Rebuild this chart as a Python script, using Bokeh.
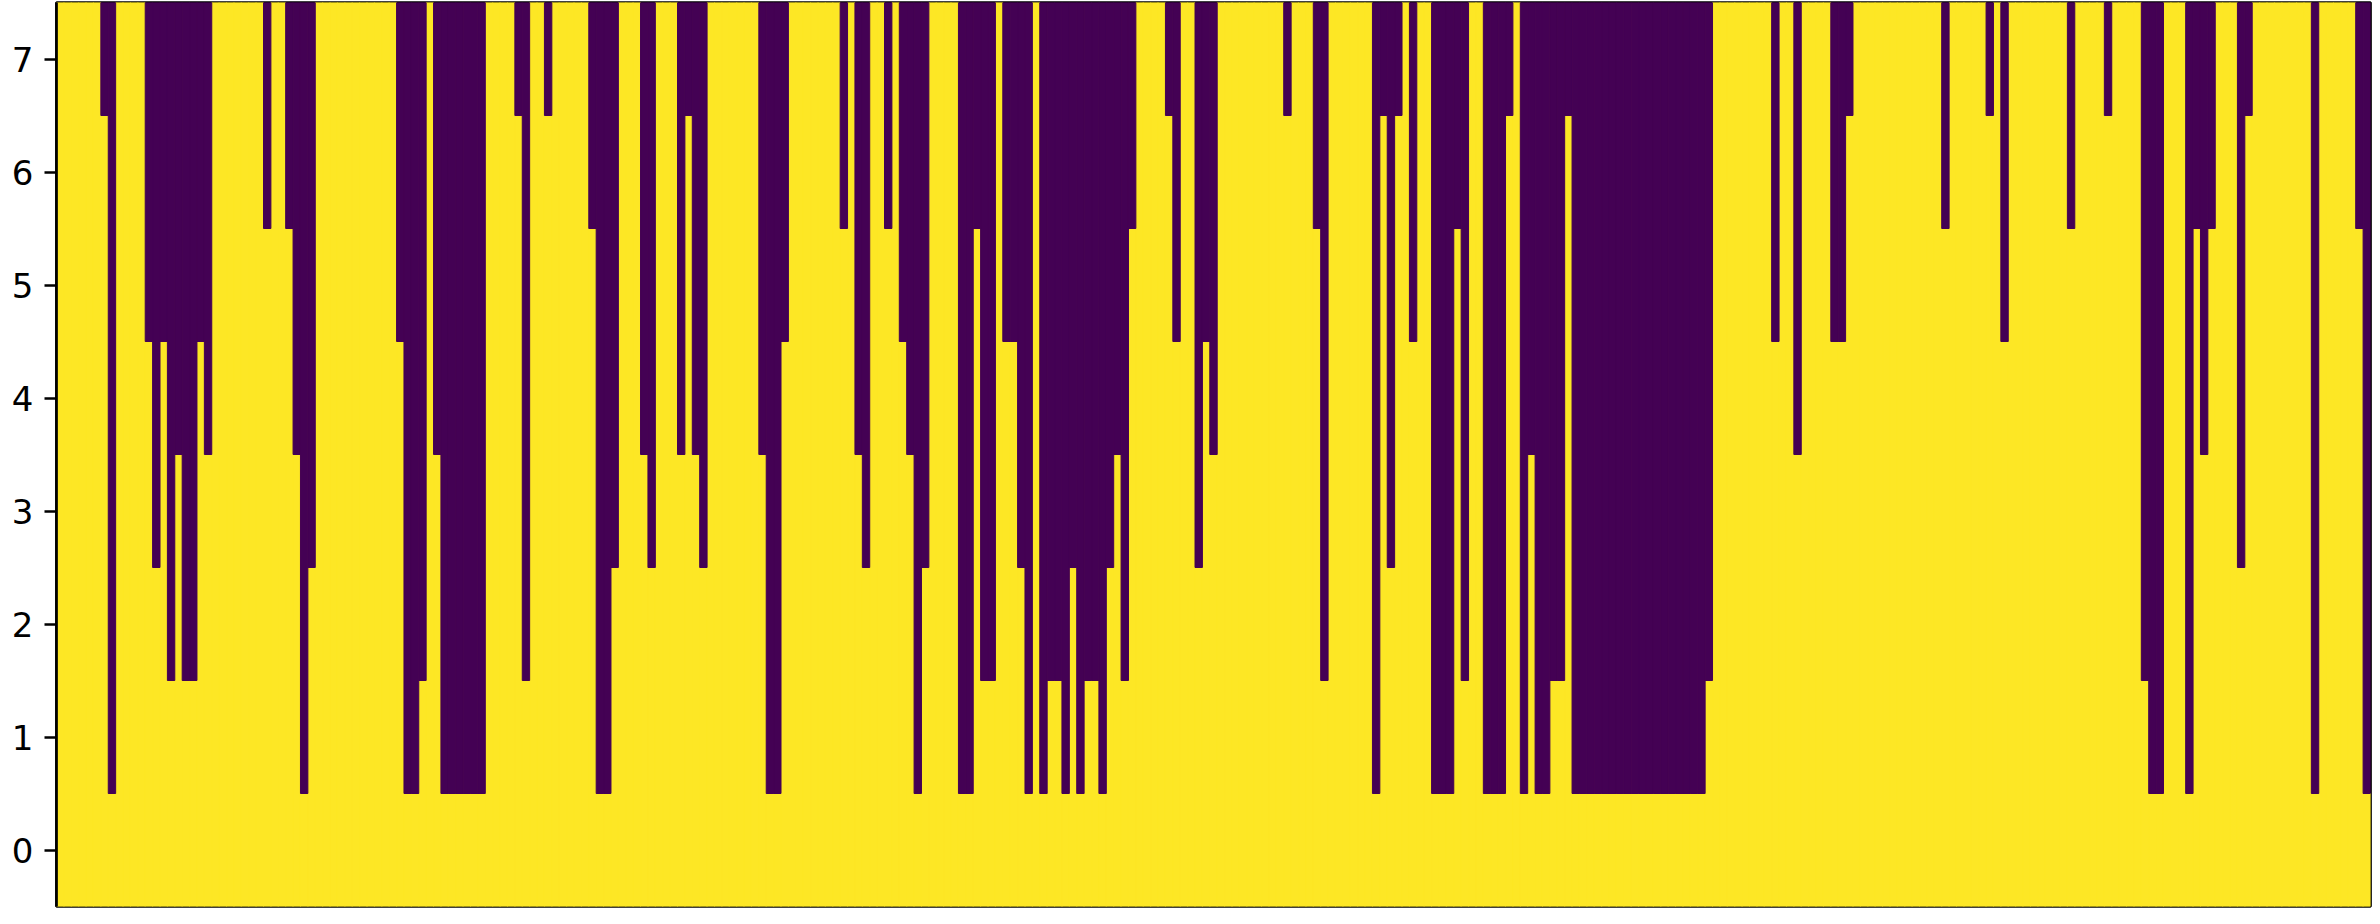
import numpy as np
from bokeh.plotting import figure
from bokeh.models import ColumnDataSource, FixedTicker, Range1d
from bokeh.embed import file_html
from bokeh.resources import INLINE

# lowest purple row for each column (8 = column fully yellow)
levels = [
    8, 8, 8, 8, 8, 8, 7, 1, 8, 8,
    8, 8, 5, 3, 5, 2, 4, 2, 2, 5,
    4, 8, 8, 8, 8, 8, 8, 8, 6, 8,
    8, 6, 4, 1, 3, 8, 8, 8, 8, 8,
    8, 8, 8, 8, 8, 8, 5, 1, 1, 2,
    8, 4, 1, 1, 1, 1, 1, 1, 8, 8,
    8, 8, 7, 2, 8, 8, 7, 8, 8, 8,
    8, 8, 6, 1, 1, 3, 8, 8, 8, 4,
    3, 8, 8, 8, 4, 7, 4, 3, 8, 8,
    8, 8, 8, 8, 8, 4, 1, 1, 5, 8,
    8, 8, 8, 8, 8, 8, 6, 8, 4, 3,
    8, 8, 6, 8, 5, 4, 1, 3, 8, 8,
    8, 8, 1, 1, 6, 2, 2, 8, 5, 5,
    3, 1, 8, 1, 2, 2, 1, 3, 1, 2,
    2, 1, 3, 4, 2, 6, 8, 8, 8, 8,
    7, 5, 8, 8, 3, 5, 4, 8, 8, 8,
    8, 8, 8, 8, 8, 8, 7, 8, 8, 8,
    6, 2, 8, 8, 8, 8, 8, 8, 1, 7,
    3, 7, 8, 5, 8, 8, 1, 1, 1, 6,
    2, 8, 8, 1, 1, 1, 7, 8, 1, 4,
    1, 1, 2, 2, 7, 1, 1, 1, 1, 1,
    1, 1, 1, 1, 1, 1, 1, 1, 1, 1,
    1, 1, 1, 2, 8, 8, 8, 8, 8, 8,
    8, 8, 5, 8, 8, 4, 8, 8, 8, 8,
    5, 5, 7, 8, 8, 8, 8, 8, 8, 8,
    8, 8, 8, 8, 8, 6, 8, 8, 8, 8,
    8, 7, 8, 5, 8, 8, 8, 8, 8, 8,
    8, 8, 6, 8, 8, 8, 8, 7, 8, 8,
    8, 8, 2, 1, 1, 8, 8, 8, 1, 6,
    4, 6, 8, 8, 8, 3, 7, 8, 8, 8,
    8, 8, 8, 8, 8, 1, 8, 8, 8, 8,
    8, 6, 1,
]
rows = [0, 1, 2, 3, 4, 5, 6, 7]
tick_labels = ["0", "1", "2", "3", "4", "5", "6", "7"]

PURPLE = "#440154"
YELLOW = "#fde725"

n = len(levels)
xs = np.arange(n)
lv = np.array(levels, dtype=float)
top_row = rows[-1] + 0.5
bot_row = rows[0] - 0.5

mask = lv < 8
src_p = ColumnDataSource(dict(
    left=xs[mask] - 0.5, right=xs[mask] + 0.5,
    bottom=lv[mask] - 0.5, top=np.full(mask.sum(), top_row)))
src_y = ColumnDataSource(dict(
    left=xs - 0.5, right=xs + 0.5,
    bottom=np.full(n, bot_row), top=np.minimum(lv, 8) - 0.5))

p = figure(width=2372, height=908,
           x_range=Range1d(-0.5, n - 0.5), y_range=Range1d(bot_row, top_row),
           output_backend="svg", toolbar_location=None,
           min_border_left=56, min_border_right=2,
           min_border_top=2, min_border_bottom=2)

p.quad(left="left", right="right", bottom="bottom", top="top", source=src_y,
       fill_color=YELLOW, line_color=YELLOW, line_width=1)
p.quad(left="left", right="right", bottom="bottom", top="top", source=src_p,
       fill_color=PURPLE, line_color=PURPLE, line_width=1)

p.xaxis.visible = False
p.grid.visible = False
p.background_fill_color = YELLOW
p.border_fill_color = "white"
p.outline_line_color = "black"
p.outline_line_width = 2.7
p.outline_line_alpha = 1.0

ax = p.yaxis[0]
ax.ticker = FixedTicker(ticks=rows)
ax.major_label_overrides = {r: t for r, t in zip(rows, tick_labels)}
ax.minor_tick_line_color = None
ax.major_tick_in = 0
ax.major_tick_out = 12
ax.major_tick_line_width = 2.7
ax.axis_line_width = 2.7
ax.major_label_standoff = 11
ax.major_label_text_font = "DejaVu Sans"
ax.major_label_text_font_size = "34px"
ax.major_label_text_color = "black"

open("out.html", "w").write(file_html(p, INLINE))
